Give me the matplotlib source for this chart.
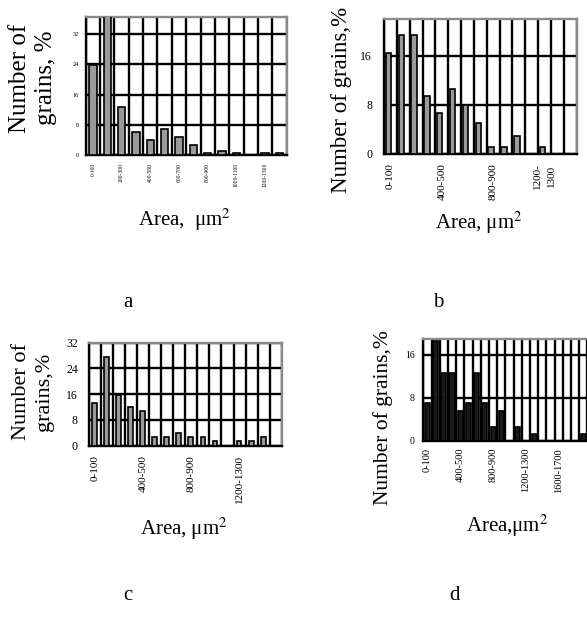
import numpy as np
import matplotlib
matplotlib.use("Agg")
import matplotlib.pyplot as plt

plt.rcParams['font.family'] = ['Liberation Serif', 'DejaVu Serif']
plt.rcParams['mathtext.fontset'] = 'stix'

W, H = 587, 635

# panel a: 14 classes of 100 um^2
a_values = [23.8, 37.0, 12.6, 6.2, 4.1, 6.9, 4.7, 2.6, 0.4, 1.0, 0.4, 0.0, 0.4, 0.4]
a_labels = ["0-100", "200-300", "400-500", "600-700", "800-900", "1000-1100", "1200-1300"]
a_label_pos = [0, 2, 4, 6, 8, 10, 12]

# panel b: 15 classes
b_values = [16.4, 19.4, 19.4, 9.5, 6.6, 10.5, 7.9, 5.0, 1.1, 1.1, 3.0, 0.0, 1.1, 0.0, 0.0]
b_labels = ["0-100", "400-500", "800-900", "1200-\n1300"]
b_label_pos = [0, 4, 8, 12]

# panel c: 16 classes
c_values = [13.4, 27.6, 15.7, 12.1, 10.9, 2.7, 2.7, 3.9, 2.7, 2.7, 1.4, 0.0, 1.4, 1.4, 2.7, 0.0]
c_labels = ["0-100", "400-500", "800-900", "1200-1300"]
c_label_pos = [0, 4, 8, 12]

# panel d: 21 classes (last ones run off the page)
d_values = [7.1, 18.5, 12.7, 12.7, 5.6, 7.1, 12.7, 7.1, 2.6, 5.6, 0.0, 2.6, 0.0, 1.3,
            0.0, 0.0, 0.0, 0.0, 0.0, 1.3, 0.0]
d_labels = ["0-100", "400-500", "800-900", "1200-1300", "1600-1700"]
d_label_pos = [0, 4, 8, 12, 16]


def px_axes(fig, x0, y0, x1, y1):
    return fig.add_axes([x0 / W, 1 - y1 / H, (x1 - x0) / W, (y1 - y0) / H])


def panel(ax, values, labels, label_pos, ymax, yticks, offset, width, color,
          xfs, yfs, xpad, ypad):
    n = len(values)
    x = np.arange(n)
    ax.bar(x + offset, values, width=width, color=color, edgecolor='black',
           linewidth=1.2, zorder=3)
    ax.set_xlim(0, n)
    ax.set_ylim(0, ymax)
    ax.set_xticks(np.arange(n + 1), minor=True)
    ax.set_xticks(np.array(label_pos) + 0.5)
    ax.set_xticklabels(labels, rotation=90, fontsize=xfs, va='top', ha='center',
                       linespacing=1.6)
    ax.set_yticks(yticks)
    ax.set_yticklabels([str(t) for t in yticks], fontsize=yfs)
    ax.tick_params(which='both', length=0)
    ax.tick_params(axis='x', pad=xpad)
    ax.tick_params(axis='y', pad=ypad)
    ax.grid(which='minor', axis='x', color='black', linewidth=1.7, zorder=1)
    ax.grid(which='major', axis='y', color='black', linewidth=1.7, zorder=1)
    ax.set_axisbelow(True)
    for s in ['left', 'bottom']:
        ax.spines[s].set_color('black')
        ax.spines[s].set_linewidth(1.7)
    for s in ['top', 'right']:
        ax.spines[s].set_color('#8a8a8a')
        ax.spines[s].set_linewidth(1.7)


def ftext(fig, x, y, s, **kw):
    fig.text(x / W, 1 - y / H, s, ha='center', va='center', **kw)


fig = plt.figure(figsize=(W / 100, H / 100), dpi=100)

ax_a = px_axes(fig, 85.7, 16.7, 286.7, 155)
panel(ax_a, a_values, a_labels, a_label_pos, 36.6, [0, 8, 16, 24, 32], 0.5, 0.52,
      '#9a9a9a', 4, 4.5, 5.5, 5)

ax_b = px_axes(fig, 384, 19.3, 576.7, 154)
panel(ax_b, b_values, b_labels, b_label_pos, 21.9, [0, 8, 16], 0.34, 0.42,
      '#9a9a9a', 8, 8.5, 6.5, 8.5)

ax_c = px_axes(fig, 89, 342.7, 281.7, 445.7)
panel(ax_c, c_values, c_labels, c_label_pos, 32, [0, 8, 16, 24, 32], 0.46, 0.4,
      '#9a9a9a', 8, 8.5, 7, 8)

ax_d = px_axes(fig, 423.3, 339.3, 423.3 + 21 * 8.21, 441)
panel(ax_d, d_values, d_labels, d_label_pos, 18.9, [0, 8, 16], 0.5, 0.62,
      '#1a1a1a', 7.5, 7, 5, 6)

# axis titles
ftext(fig, 33, 78, "Number of\ngrains, %", rotation=90, fontsize=18, linespacing=1.2)
ftext(fig, 184, 220, "Area,  μm$^2$", fontsize=15)

ftext(fig, 342, 100, "Number of grains,%", rotation=90, fontsize=16.5)
ftext(fig, 479, 223, "Area, μm$^2$", fontsize=15)

ftext(fig, 33, 392, "Number of\ngrains,%", rotation=90, fontsize=16, linespacing=1.25)
ftext(fig, 184, 529, "Area, μm$^2$", fontsize=15)

ftext(fig, 383, 418, "Number of grains,%", rotation=90, fontsize=15.5)
ftext(fig, 507, 526, "Area,μm$^2$", fontsize=15)

# panel letters
ftext(fig, 128, 303, "a", fontsize=15)
ftext(fig, 438, 303, "b", fontsize=15)
ftext(fig, 128, 595, "c", fontsize=15)
ftext(fig, 455, 595, "d", fontsize=15)

fig.savefig("out.png", dpi=100)
